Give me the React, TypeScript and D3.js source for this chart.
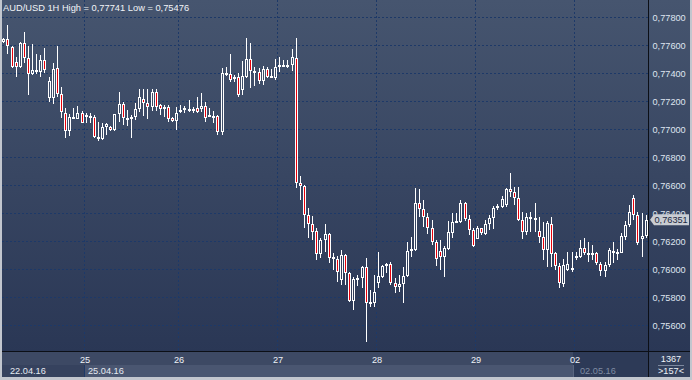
import React from 'react';
import * as d3 from 'd3';

const title = 'AUD/USD 1H High = 0,77741 Low = 0,75476';

const opens = [
0.77621,0.77643,0.77589,0.77475,0.77441,0.77614,0.77505,0.77393,0.77405,0.77409,
0.77493,0.77219,0.77219,0.77434,0.77250,0.77116,0.76986,0.77074,0.77074,0.77116,
0.77100,0.77084,0.77088,0.76945,0.76929,0.77016,0.77012,0.76993,0.77105,0.77176,
0.77074,0.77074,0.77088,0.77141,0.77216,0.77184,0.77155,0.77262,0.77169,0.77141,
0.77155,0.77076,0.77059,0.77126,0.77136,0.77145,0.77143,0.77148,0.77141,0.77164,
0.77088,0.77084,0.77093,0.76981,0.77393,0.77391,0.77355,0.77374,0.77279,0.77374,
0.77498,0.77402,0.77405,0.77345,0.77426,0.77366,0.77362,0.77445,0.77445,0.77450,
0.77457,0.77509,0.76612,0.76593,0.76386,0.76321,0.76271,0.76105,0.76207,0.76250,
0.76084,0.76069,0.75918,0.76100,0.75974,0.75771,0.75926,0.75934,0.76016,0.75754,
0.75757,0.75898,0.75945,0.76024,0.76034,0.75898,0.75869,0.75891,0.75950,0.76129,
0.76136,0.76469,0.76426,0.76369,0.76291,0.76191,0.76129,0.76088,0.76141,0.76259,
0.76331,0.76338,0.76474,0.76355,0.76279,0.76214,0.76291,0.76250,0.76321,0.76362,
0.76434,0.76445,0.76457,0.76569,0.76548,0.76505,0.76350,0.76266,0.76357,0.76355,
0.76271,0.76231,0.76136,0.76321,0.76112,0.76021,0.75893,0.75993,0.75998,0.76081,
0.76084,0.76148,0.76105,0.76105,0.76112,0.76034,0.75986,0.76029,0.76131,0.76112,
0.76116,0.76231,0.76314,0.76505,0.76386,0.76212,0.76236];

const highs = [
0.77650,0.77741,0.77593,0.77514,0.77625,0.77691,0.77593,0.77605,0.77534,0.77529,
0.77576,0.77374,0.77474,0.77593,0.77302,0.77150,0.77107,0.77148,0.77164,0.77131,
0.77114,0.77116,0.77100,0.77052,0.77045,0.77041,0.77021,0.77108,0.77266,0.77195,
0.77136,0.77100,0.77188,0.77286,0.77284,0.77284,0.77286,0.77286,0.77179,0.77171,
0.77171,0.77088,0.77155,0.77171,0.77164,0.77207,0.77159,0.77231,0.77259,0.77195,
0.77148,0.77131,0.77100,0.77438,0.77441,0.77536,0.77386,0.77398,0.77486,0.77648,
0.77612,0.77445,0.77434,0.77450,0.77441,0.77426,0.77498,0.77516,0.77493,0.77493,
0.77569,0.77648,0.76664,0.76600,0.76436,0.76375,0.76291,0.76219,0.76321,0.76257,
0.76112,0.76093,0.76136,0.76107,0.75979,0.75945,0.75957,0.76021,0.76076,0.75850,
0.75957,0.76124,0.76029,0.76043,0.76052,0.75934,0.75957,0.76016,0.76195,0.76226,
0.76576,0.76571,0.76493,0.76398,0.76350,0.76207,0.76207,0.76164,0.76343,0.76398,
0.76398,0.76493,0.76481,0.76386,0.76291,0.76307,0.76295,0.76350,0.76386,0.76450,
0.76464,0.76521,0.76576,0.76684,0.76584,0.76584,0.76409,0.76402,0.76409,0.76469,
0.76374,0.76338,0.76343,0.76369,0.76124,0.76045,0.76069,0.76124,0.76124,0.76124,
0.76207,0.76219,0.76195,0.76171,0.76124,0.76052,0.76052,0.76148,0.76195,0.76141,
0.76259,0.76343,0.76457,0.76529,0.76409,0.76398,0.76386];

const lows = [
0.77614,0.77536,0.77436,0.77374,0.77439,0.77468,0.77243,0.77386,0.77393,0.77369,
0.77398,0.77195,0.77179,0.77226,0.77076,0.76934,0.76950,0.77071,0.77069,0.77043,
0.77041,0.77041,0.76937,0.76916,0.76921,0.76957,0.76986,0.76989,0.77052,0.77029,
0.77021,0.76934,0.77064,0.77124,0.77093,0.77069,0.77131,0.77131,0.77100,0.77088,
0.77052,0.77052,0.76993,0.77116,0.77116,0.77124,0.77116,0.77112,0.77124,0.77052,
0.77084,0.77041,0.76957,0.76957,0.77379,0.77338,0.77338,0.77226,0.77243,0.77366,
0.77295,0.77307,0.77321,0.77314,0.77362,0.77362,0.77350,0.77409,0.77441,0.77434,
0.77416,0.76576,0.76493,0.76291,0.76225,0.76207,0.76064,0.76076,0.76124,0.76041,
0.75993,0.75909,0.75886,0.75886,0.75764,0.75704,0.75881,0.75866,0.75476,0.75726,
0.75731,0.75862,0.75936,0.75969,0.75886,0.75831,0.75838,0.75759,0.75946,0.76088,
0.76132,0.76369,0.76302,0.76250,0.76171,0.76021,0.75993,0.75941,0.76136,0.76219,
0.76326,0.76326,0.76345,0.76243,0.76157,0.76211,0.76243,0.76243,0.76279,0.76284,
0.76421,0.76434,0.76445,0.76516,0.76457,0.76343,0.76214,0.76243,0.76266,0.76266,
0.76184,0.76064,0.76016,0.76016,0.75993,0.75866,0.75874,0.75986,0.75981,0.76064,
0.76076,0.76100,0.76052,0.76064,0.76029,0.75950,0.75941,0.76016,0.76041,0.76064,
0.76112,0.76207,0.76302,0.76350,0.76171,0.76088,0.76219];

const closes = [
0.77643,0.77593,0.77441,0.77441,0.77614,0.77505,0.77393,0.77421,0.77421,0.77493,
0.77421,0.77343,0.77426,0.77250,0.77124,0.76986,0.77084,0.77086,0.77116,0.77045,
0.77084,0.77093,0.76941,0.76929,0.77016,0.77034,0.76991,0.77105,0.77176,0.77076,
0.77081,0.77088,0.77141,0.77231,0.77188,0.77155,0.77262,0.77155,0.77141,0.77155,
0.77071,0.77059,0.77112,0.77136,0.77148,0.77131,0.77129,0.77124,0.77164,0.77076,
0.77100,0.77095,0.76981,0.77398,0.77402,0.77350,0.77374,0.77243,0.77379,0.77498,
0.77416,0.77414,0.77345,0.77426,0.77374,0.77379,0.77441,0.77457,0.77457,0.77457,
0.77512,0.76612,0.76593,0.76386,0.76321,0.76266,0.76104,0.76207,0.76250,0.76076,
0.76069,0.75975,0.76100,0.75974,0.75771,0.75926,0.75938,0.76016,0.75755,0.75764,
0.75836,0.75950,0.76025,0.76036,0.75898,0.75869,0.75891,0.75950,0.76129,0.76143,
0.76469,0.76426,0.76369,0.76291,0.76191,0.76069,0.76088,0.76148,0.76266,0.76334,
0.76343,0.76469,0.76355,0.76279,0.76164,0.76291,0.76255,0.76321,0.76362,0.76434,
0.76450,0.76498,0.76569,0.76548,0.76505,0.76350,0.76266,0.76369,0.76369,0.76364,
0.76226,0.76136,0.76326,0.76107,0.76021,0.75898,0.76029,0.76034,0.76009,0.76093,
0.76148,0.76112,0.76116,0.76116,0.76041,0.75986,0.76029,0.76136,0.76112,0.76124,
0.76236,0.76314,0.76409,0.76386,0.76188,0.76236,0.76351];

const priceTicks = [0.756, 0.758, 0.760, 0.762, 0.764, 0.766, 0.768, 0.770, 0.772, 0.774, 0.776, 0.778];
const dayLabels = ['25', '26', '27', '28', '29', '02'];
const dayStartBars = [20, 43, 67, 91, 115, 139];
const firstDate = '22.04.16';
const secondDate = '25.04.16';
const currentDate = '02.05.16';
const lastPrice = 0.76351;
const totalBars = '1367';
const visibleBars = '>157<';

const W = 692;
const H = 380;
const PLOT_R = 649;
const PLOT_B = 352;
const FONT = 'Liberation Sans, Arial, sans-serif';
const BG_TOP = '#46556f';
const BG_BOT = '#2a3755';

export default function App() {
  const n = opens.length;
  const x = d3.scaleLinear().domain([0, n - 1]).range([3.3, 645.7]);
  const y = d3.scaleLinear().domain([0.756, 0.778]).range([325, 17]);
  const bgAt = d3.interpolateRgb(BG_TOP, BG_BOT);
  const fmt = (v: number) => d3.format('.5f')(v).replace('.', ',');

  const candles = opens.map((o, i) => {
    const c = closes[i];
    const col = Math.round(x(i));
    const yt = Math.round(y(Math.max(o, c)));
    const yb = Math.round(y(Math.min(o, c)));
    const hgt = Math.max(1, yb - yt - 1);
    const bull = c >= o;
    return (
      <g key={i}>
        <line x1={col + 0.5} x2={col + 0.5} y1={Math.round(y(highs[i]))} y2={Math.round(y(lows[i]))} stroke="#ffffff" strokeWidth={1} />
        <rect x={col - 0.5} y={yt + 0.5} width={2} height={hgt} fill={bull ? bgAt(yt / PLOT_B) : '#e8000a'} stroke="#ffffff" strokeWidth={1} />
      </g>
    );
  });

  const lastY = y(lastPrice);

  return (
    <svg width={W} height={H} style={{ position: 'absolute', left: 0, top: 0, display: 'block' }} fontFamily={FONT}>
      <defs>
        <linearGradient id="bg" x1="0" y1="0" x2="0" y2="1">
          <stop offset="0" stopColor={BG_TOP} />
          <stop offset="1" stopColor={BG_BOT} />
        </linearGradient>
        <clipPath id="plotClip">
          <rect x={2} y={0} width={PLOT_R - 2} height={PLOT_B} />
        </clipPath>
      </defs>
      <rect x={0} y={0} width={W} height={H} fill="#c2c6ce" />
      <rect x={2} y={0} width={688} height={PLOT_B} fill="url(#bg)" />

      {/* grid */}
      <g clipPath="url(#plotClip)">
        {priceTicks.map((t) => (
          <line key={t} x1={2} x2={PLOT_R} y1={Math.round(y(t)) + 0.5} y2={Math.round(y(t)) + 0.5} stroke="#1d3968" strokeDasharray="2,2" />
        ))}
        {dayStartBars.map((b) => (
          <line key={b} x1={Math.floor(x(b) - 1.5) + 0.5} x2={Math.floor(x(b) - 1.5) + 0.5} y1={0} y2={PLOT_B} stroke="#1d3968" strokeDasharray="2,2" />
        ))}
        {candles}
      </g>

      {/* title */}
      <text x={3} y={11} fill="#f2f4f8" fontSize={9.3}>{title}</text>

      {/* price axis labels */}
      {priceTicks.map((t) => (
        <text key={t} x={652.5} y={y(t) + 3.5} fill="#dfe6f0" fontSize={9.2}>{fmt(t)}</text>
      ))}

      {/* current price marker */}
      <path d={`M650,${lastY} L654,${lastY - 5.5} L689,${lastY - 5.5} L689,${lastY + 5.5} L654,${lastY + 5.5} Z`} fill="#c9cdd3" />
      <text x={654.5} y={lastY + 3.3} fill="#1b2740" fontSize={9.2}>{fmt(lastPrice)}</text>

      {/* time axis */}
      <rect x={2} y={PLOT_B} width={PLOT_R - 2} height={13} fill="#3d4964" />
      <rect x={2} y={365} width={PLOT_R - 2} height={12} fill="#4a5671" />
      <rect x={2} y={365} width={Math.floor(x(dayStartBars[0]) - 1.5) - 2} height={12} fill="#36425e" />
      <line x1={Math.floor(x(dayStartBars[0]) - 1.5) + 0.5} x2={Math.floor(x(dayStartBars[0]) - 1.5) + 0.5} y1={365} y2={377} stroke="#1d3968" />
      <rect x={573} y={PLOT_B} width={PLOT_R - 573} height={25} fill="#2d3a57" />
      <line x1={573.5} x2={573.5} y1={365} y2={377} stroke="#5a6680" />
      {dayLabels.map((l, k) => (
        <text key={l} x={Math.floor(x(dayStartBars[k]) - 1.5) + 1} y={362.5} fill="#eef2f8" fontSize={9.2} textAnchor="middle">{l}</text>
      ))}
      <text x={10} y={374.3} fill="#e6ebf2" fontSize={9.2}>{firstDate}</text>
      <text x={88} y={374.3} fill="#e6ebf2" fontSize={9.2}>{secondDate}</text>
      <text x={580} y={374.3} fill="#7f8ba2" fontSize={9.2}>{currentDate}</text>

      {/* bottom-right box */}
      <rect x={PLOT_R} y={PLOT_B} width={690 - PLOT_R} height={25} fill="#33405c" />
      <text x={671} y={361.5} fill="#eef2f8" fontSize={9.2} textAnchor="middle">{totalBars}</text>
      <line x1={658} x2={684} y1={365.5} y2={365.5} stroke="#7d889e" />
      <text x={671} y={374.3} fill="#eef2f8" fontSize={9.2} textAnchor="middle">{visibleBars}</text>

      {/* borders */}
      <line x1={2} x2={690} y1={PLOT_B - 0.5} y2={PLOT_B - 0.5} stroke="#0c0f16" />
      <line x1={PLOT_R - 0.5} x2={PLOT_R - 0.5} y1={0} y2={377} stroke="#0c0f16" />
    </svg>
  );
}
